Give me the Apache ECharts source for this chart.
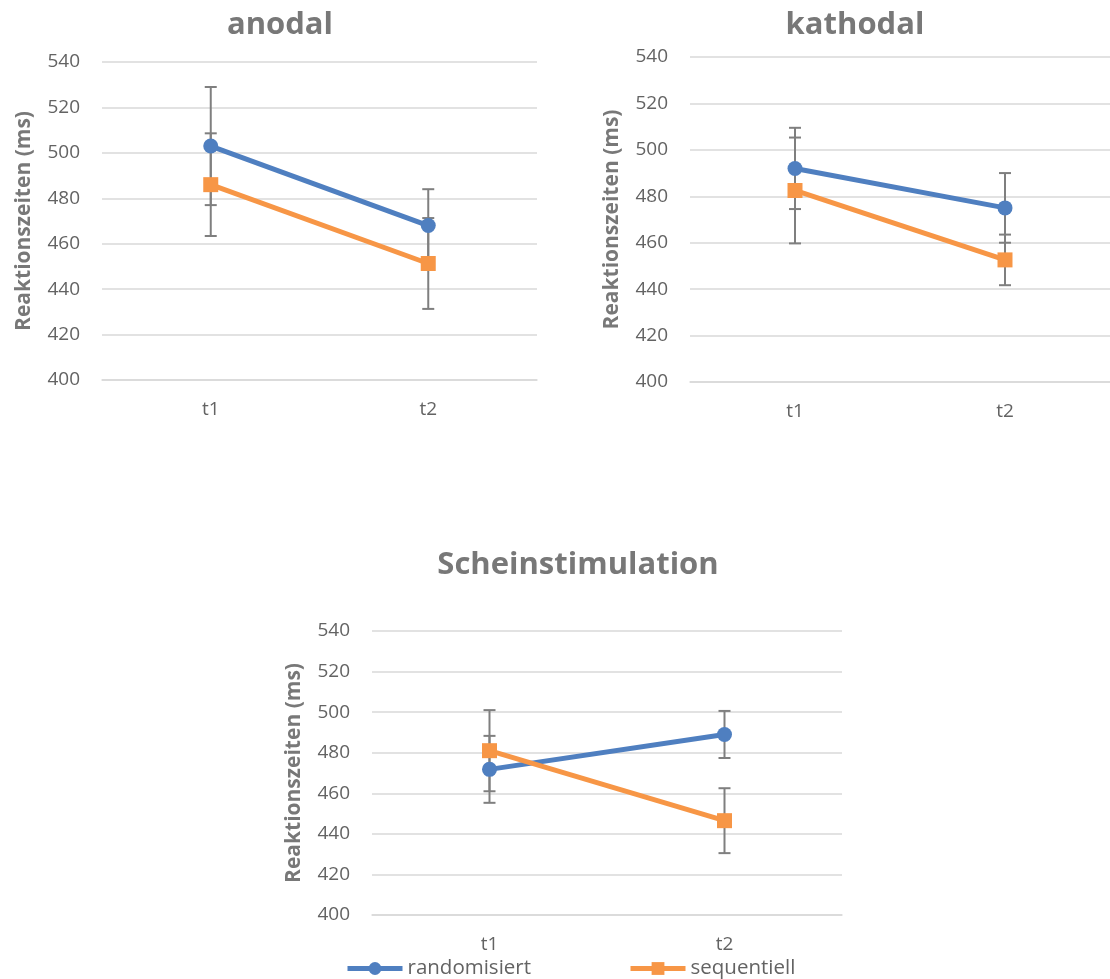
<!DOCTYPE html>
<html>
<head>
<meta charset="utf-8">
<script src="https://cdn.jsdelivr.net/npm/echarts@6/dist/echarts.min.js"></script>
<style>html,body{margin:0;padding:0;background:#fff}#c{width:1110px;height:979px}</style>
</head>
<body>
<div id="c"></div>
<script>
const categories = ['t1', 't2'];
const yMin = 400, yMax = 540, yStep = 20;
const seriesNames = ['randomisiert', 'sequentiell'];
const panelTitles = ['anodal', 'kathodal', 'Scheinstimulation'];
const axisName = 'Reaktionszeiten (ms)';

const anodalRand = [503, 468];
const anodalRandErr = [26, 16];
const anodalSeq = [486, 451.3];
const anodalSeqErr = [22.6, 20];

const kathodalRand = [492, 475];
const kathodalRandErr = [17.5, 15];
const kathodalSeq = [482.5, 452.6];
const kathodalSeqErr = [22.8, 10.9];

const scheinRand = [471.8, 489];
const scheinRandErr = [16.5, 11.6];
const scheinSeq = [481, 446.5];
const scheinSeqErr = [20, 16];

const FONT = 'Open Sans';
const TXT = '#636363';
const TITLE = '#787878';
const BLUE = '#4f7fc0';
const ORANGE = '#f79646';
const ERR = '#7f7f7f';

const panels = [
  {rand: anodalRand, randErr: anodalRandErr, seq: anodalSeq, seqErr: anodalSeqErr},
  {rand: kathodalRand, randErr: kathodalRandErr, seq: kathodalSeq, seqErr: kathodalSeqErr},
  {rand: scheinRand, randErr: scheinRandErr, seq: scheinSeq, seqErr: scheinSeqErr}
];

const grids = [
  {left: 102, top: 62, width: 435, height: 318},
  {left: 690, top: 57, width: 422, height: 325},
  {left: 372, top: 631, width: 470, height: 284}
];
const titlePos = [{x: 275, y: 5}, {x: 850, y: 5}, {x: 573, y: 545}];

function errData(vals, errs) {
  return vals.map((v, i) => [i, v - errs[i], v + errs[i]]);
}
function errRender(params, api) {
  const x = api.value(0);
  const lo = api.coord([x, api.value(1)]);
  const hi = api.coord([x, api.value(2)]);
  const w = 6;
  const st = {stroke: ERR, lineWidth: 2};
  return {type: 'group', children: [
    {type: 'line', shape: {x1: lo[0], y1: lo[1], x2: hi[0], y2: hi[1]}, style: st},
    {type: 'line', shape: {x1: lo[0] - w, y1: lo[1], x2: lo[0] + w, y2: lo[1]}, style: st},
    {type: 'line', shape: {x1: hi[0] - w, y1: hi[1], x2: hi[0] + w, y2: hi[1]}, style: st}
  ]};
}

const option = {
  animation: false,
  backgroundColor: '#fff',
  textStyle: {fontFamily: FONT},
  title: panelTitles.map((t, i) => ({
    text: t, left: titlePos[i].x, top: titlePos[i].y, textAlign: 'center',
    textStyle: {fontFamily: FONT, fontWeight: 'bold', fontSize: 31, color: TITLE}
  })),
  legend: {
    data: seriesNames, left: 345, top: 958, padding: 0, itemWidth: 55, itemHeight: 16, itemGap: 97,
    lineStyle: {width: 5},
    textStyle: {fontFamily: FONT, fontSize: 20.5, color: TXT}
  },
  grid: grids,
  xAxis: grids.map((g, i) => ({
    type: 'category', gridIndex: i, data: categories, boundaryGap: true,
    axisLine: {show: true, lineStyle: {color: '#d9d9d9', width: 1.5}},
    axisTick: {show: false},
    axisLabel: {color: TXT, fontSize: 19, fontFamily: FONT, margin: 20}
  })),
  yAxis: grids.map((g, i) => ({
    type: 'value', gridIndex: i, min: yMin, max: yMax, interval: yStep,
    name: axisName, nameLocation: 'middle', nameGap: 67,
    nameTextStyle: {color: TITLE, fontSize: 21, fontWeight: 'bold', fontFamily: FONT},
    axisLine: {show: false}, axisTick: {show: false},
    axisLabel: {color: TXT, fontSize: 19, fontFamily: FONT, margin: 22},
    splitLine: {lineStyle: {color: '#d9d9d9', width: 1.5}}
  })),
  series: []
};

panels.forEach((p, i) => {
  option.series.push(
    {type: 'custom', xAxisIndex: i, yAxisIndex: i, renderItem: errRender, data: errData(p.rand, p.randErr), z: 1, silent: true},
    {type: 'custom', xAxisIndex: i, yAxisIndex: i, renderItem: errRender, data: errData(p.seq, p.seqErr), z: 1, silent: true},
    {name: seriesNames[0], type: 'line', xAxisIndex: i, yAxisIndex: i, data: p.rand, z: 3,
      symbol: 'circle', symbolSize: 15, color: BLUE,
      lineStyle: {color: BLUE, width: 5}, itemStyle: {color: BLUE}},
    {name: seriesNames[1], type: 'line', xAxisIndex: i, yAxisIndex: i, data: p.seq, z: 4,
      symbol: 'rect', symbolSize: 15, color: ORANGE,
      lineStyle: {color: ORANGE, width: 5}, itemStyle: {color: ORANGE}}
  );
});

const chart = echarts.init(document.getElementById('c'), null, {renderer: 'canvas'});
chart.setOption(option);
</script>
</body>
</html>
